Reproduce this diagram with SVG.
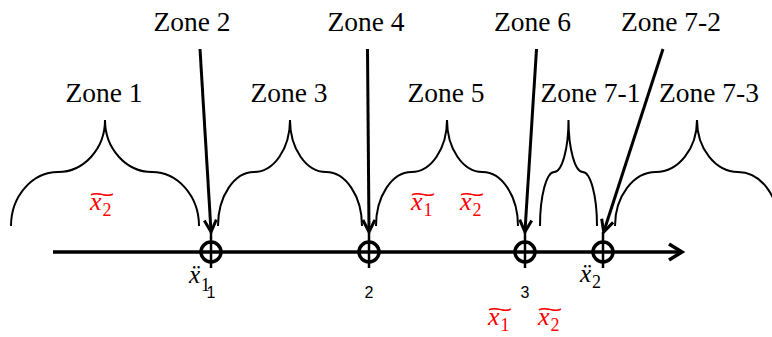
<svg xmlns="http://www.w3.org/2000/svg" width="772" height="337" viewBox="0 0 772 337">
  <style>
    .zone { font-family: "Liberation Serif", "DejaVu Serif", serif; font-size: 27.5px; fill: #000; text-anchor: middle; }
    .brace { fill: none; stroke: #000; stroke-width: 2; }
    .num { font-family: "Liberation Sans", "Noto Sans", sans-serif; fill: #000; text-anchor: middle; }
    .rx { font-family: "Liberation Serif", "DejaVu Serif", serif; font-style: italic; fill: #ff0000; }
    .bx { font-family: "Liberation Serif", "DejaVu Serif", serif; font-style: italic; fill: #000; }
    .sub { font-style: normal; }
    .tl { font-family: "Liberation Sans", sans-serif; font-style: normal; }
    .pt { fill: none; stroke: #000; stroke-width: 3.5; }
    .tick { stroke: #000; stroke-width: 2.5; }
    .conn { fill: none; stroke: #000; stroke-width: 3; marker-end: url(#arr); }
    .axis { fill: none; stroke: #000; stroke-width: 3.5; marker-end: url(#axarr); }
  </style>
  <defs>
    <marker id="arr" markerUnits="userSpaceOnUse" markerWidth="16" markerHeight="16" viewBox="-2 -2 16 16" refX="11" refY="6" orient="auto" overflow="visible">
      <path d="M0,0 L12,6 L0,12" fill="none" stroke="#000" stroke-width="3"/>
    </marker>
    <marker id="axarr" markerUnits="userSpaceOnUse" markerWidth="18" markerHeight="20" viewBox="-2 -2 18 20" refX="12" refY="8" orient="auto" overflow="visible">
      <path d="M0,0 L13,8 L0,16" fill="none" stroke="#000" stroke-width="3.5"/>
    </marker>
  </defs>

  <g id="axis">
    <line class="axis" x1="53" y1="252" x2="681" y2="252"/>
  </g>

  <g id="point-1">
    <line class="tick" x1="211" y1="232" x2="211" y2="268"/>
    <circle class="pt" cx="211" cy="252" r="10"/>
    <text class="num" x="211" y="298" font-size="16">1</text>
    <text class="bx" x="189" y="283" font-size="25">ẍ<tspan class="sub" font-size="18" dx="1" dy="8">1</tspan></text>
  </g>
  <g id="point-2">
    <line class="tick" x1="369" y1="232" x2="369" y2="268"/>
    <circle class="pt" cx="369" cy="252" r="10"/>
    <text class="num" x="369" y="298" font-size="16">2</text>
  </g>
  <g id="point-3">
    <line class="tick" x1="525" y1="232" x2="525" y2="268"/>
    <circle class="pt" cx="525" cy="252" r="10"/>
    <text class="num" x="525" y="298" font-size="16">3</text>
    <text class="rx" x="488" y="325" font-size="26">x<tspan class="sub" font-size="18" dx="1" dy="6">1</tspan><tspan class="tl" font-size="22" x="487" y="317" textLength="26" lengthAdjust="spacingAndGlyphs">~</tspan></text>
    <text class="rx" x="538" y="325" font-size="26">x<tspan class="sub" font-size="18" dx="1" dy="6">2</tspan><tspan class="tl" font-size="22" x="537" y="317" textLength="26" lengthAdjust="spacingAndGlyphs">~</tspan></text>
  </g>
  <g id="point-x2">
    <line class="tick" x1="603" y1="232" x2="603" y2="268"/>
    <circle class="pt" cx="603" cy="252" r="10"/>
    <text class="bx" x="580" y="282" font-size="25">ẍ<tspan class="sub" font-size="18" dx="1" dy="6">2</tspan></text>
  </g>

  <g id="zone-1">
    <text class="zone" x="104" y="101.5">Zone 1</text>
    <path class="brace" d="M11,226 C11,196.3 32.15,172 58,172 C83.9,172 105,148.6 105,120 C105,148.6 126.1,172 152,172 C177.9,172 199,196.3 199,226"/>
    <text class="rx" x="90" y="210" font-size="26">x<tspan class="sub" font-size="18" dx="1" dy="6">2</tspan><tspan class="tl" font-size="22" x="89" y="202" textLength="26" lengthAdjust="spacingAndGlyphs">~</tspan></text>
  </g>
  <g id="zone-2">
    <text class="zone" x="192" y="30.5">Zone 2</text>
  </g>
  <g id="zone-3">
    <text class="zone" x="289" y="101.5">Zone 3</text>
    <path class="brace" d="M218,226 C218,196.3 234.2,172 254,172 C273.8,172 290,148.6 290,120 C290,148.6 306.2,172 326,172 C345.8,172 362,196.3 362,226"/>
  </g>
  <g id="zone-4">
    <text class="zone" x="366" y="30.5">Zone 4</text>
  </g>
  <g id="zone-5">
    <text class="zone" x="446" y="101.5">Zone 5</text>
    <path class="brace" d="M376,226 C376,196.3 392,172 411.5,172 C431,172 447,148.6 447,120 C447,148.6 463,172 482.5,172 C502,172 518,196.3 518,226"/>
    <text class="rx" x="411" y="210" font-size="26">x<tspan class="sub" font-size="18" dx="1" dy="6">1</tspan><tspan class="tl" font-size="22" x="410" y="202" textLength="26" lengthAdjust="spacingAndGlyphs">~</tspan></text>
    <text class="rx" x="460" y="210" font-size="26">x<tspan class="sub" font-size="18" dx="1" dy="6">2</tspan><tspan class="tl" font-size="22" x="459" y="202" textLength="26" lengthAdjust="spacingAndGlyphs">~</tspan></text>
  </g>
  <g id="zone-6">
    <text class="zone" x="532.5" y="30.5">Zone 6</text>
  </g>
  <g id="zone-7-1">
    <text class="zone" x="590.5" y="101.5">Zone 7-1</text>
    <path class="brace" d="M540,226 C540,196.3 546.4,172 554.25,172 C562,172 568.5,148.6 568.5,120 C568.5,148.6 575,172 582.75,172 C590.6,172 597,196.3 597,226"/>
  </g>
  <g id="zone-7-2">
    <text class="zone" x="671" y="30.5">Zone 7-2</text>
  </g>
  <g id="zone-7-3">
    <text class="zone" x="709" y="101.5">Zone 7-3</text>
    <path class="brace" d="M615,226 C615,196.3 633.45,172 656,172 C678.55,172 697,148.6 697,120 C697,148.6 715.45,172 738,172 C760.55,172 779,196.3 779,226"/>
  </g>

  <g id="connectors">
    <line class="conn" x1="200" y1="49" x2="211" y2="231"/>
    <line class="conn" x1="367.5" y1="49" x2="369" y2="231"/>
    <line class="conn" x1="536.5" y1="49" x2="525" y2="231"/>
    <line class="conn" x1="663" y1="49" x2="604" y2="231"/>
  </g>
</svg>
